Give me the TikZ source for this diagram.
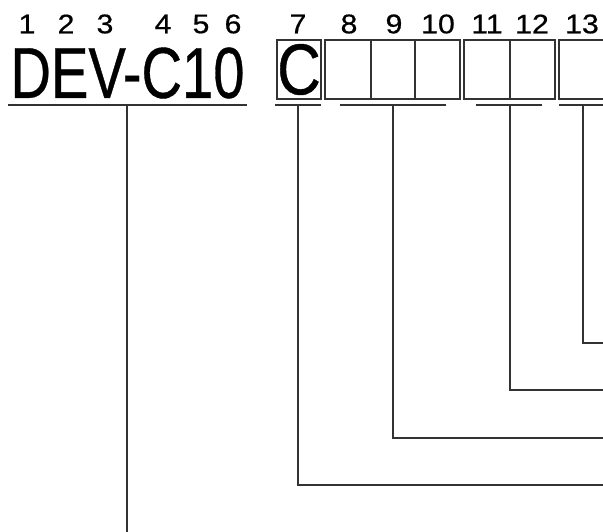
\documentclass[tikz,border=0pt]{standalone}
\usepackage{fontspec}
\setmainfont{Liberation Sans}
\newfontfamily\digfont[FakeBold=0.6]{Liberation Sans}
\begin{document}
\begin{tikzpicture}[x=1pt,y=-1pt,
  lbl/.style={inner sep=0pt,font=\digfont\fontsize{27}{27}\selectfont},
  big/.style={inner sep=0pt,font=\digfont\fontsize{72}{72}\selectfont},
  cell/.style={draw=black!80,line width=1.4pt,minimum height=59pt,inner sep=0pt,outer sep=0pt},
  conn/.style={draw=black!80,line width=1.5pt},
  ul/.style={draw=black!80,line width=1.8pt}]
\useasboundingbox (0,0) rectangle (603,531);
\clip (0,0) rectangle (603,531);
% digit labels
\foreach \n/\x in {1/27,2/66,3/105,4/163,5/201,6/233,7/298,8/349,9/394,10/438,11/487,12/532,13/582}
  \node[lbl] (d\n) at (\x,24) {\scalebox{1.12}[1]{\n}};
% main code
\node[big] (dev) at (127.5,73) {\scalebox{0.78}[1]{DEV-C10}};
% boxes
\node[cell,minimum width=44pt,font=\digfont\fontsize{72}{72}\selectfont] (c7) at (299,69.5) {\scalebox{0.84}[1]{C}};
\node[cell,minimum width=46pt] (c8) at (348,69.5) {};
\node[cell,minimum width=44pt] (c9) at (393,69.5) {};
\node[cell,minimum width=45pt] (c10) at (437.5,69.5) {};
\node[cell,minimum width=46pt] (c11) at (487,69.5) {};
\node[cell,minimum width=45pt] (c12) at (532.5,69.5) {};
\node[cell,minimum width=46pt] (c13) at (582,69.5) {};
% underlines
\coordinate (u1a) at (8,105); \coordinate (u1b) at (247,105);
\coordinate (u2a) at (275,105); \coordinate (u2b) at (321,105);
\coordinate (u3a) at (340,105); \coordinate (u3b) at (446,105);
\coordinate (u4a) at (476,105); \coordinate (u4b) at (542,105);
\coordinate (u5a) at (559,105); \coordinate (u5b) at (610,105);
\draw[ul] (u1a) -- (u1b);
\draw[ul] (u2a) -- (u2b);
\draw[ul] (u3a) -- (u3b);
\draw[ul] (u4a) -- (u4b);
\draw[ul] (u5a) -- (u5b);
% connectors
\coordinate (e1) at (127,535);
\coordinate (e7) at (610,485);
\coordinate (e8) at (610,438);
\coordinate (e11) at (610,390);
\coordinate (e13) at (610,343);
\draw[conn] (127,105) -- (e1);
\draw[conn] (298,105) |- (e7);
\draw[conn] (393,105) |- (e8);
\draw[conn] (510,105) |- (e11);
\draw[conn] (583,105) |- (e13);
\end{tikzpicture}
\end{document}
